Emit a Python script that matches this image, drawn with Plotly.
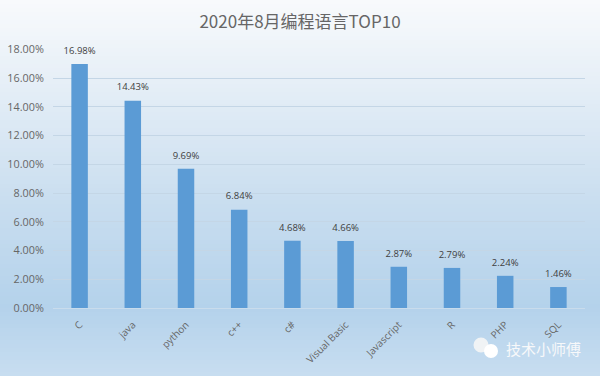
import plotly.graph_objects as go

languages = ["C", "java", "python", "c++", "c#", "Visual Basic", "Javascript", "R", "PHP", "SQL"]
shares = [16.98, 14.43, 9.69, 6.84, 4.68, 4.66, 2.87, 2.79, 2.24, 1.46]
y_ticks = [0, 2, 4, 6, 8, 10, 12, 14, 16, 18]
title_text = "2020年8月编程语言TOP10"
watermark = "技术小师傅"

FONT = "'Noto Sans CJK SC', 'Open Sans', sans-serif"
LABEL_FONT = "'Open Sans', 'Noto Sans CJK SC', sans-serif"
W, H = 600, 376
L, T, PW, PH = 53, 49, 532, 259

stops = [(0.0, (248, 250, 252)), (0.25, (227, 237, 246)), (0.55, (200, 221, 239)),
         (0.82, (180, 210, 235)), (1.0, (199, 221, 240))]


def grad(t):
    for (a, ca), (b, cb) in zip(stops, stops[1:]):
        if t <= b:
            f = (t - a) / (b - a)
            return "rgb(%d,%d,%d)" % tuple(round(x + (y - x) * f) for x, y in zip(ca, cb))
    return "rgb(199,221,240)"


def px(x):
    return (x - L) / PW


def py(y):
    return (T + PH - y) / PH


def circle(cx, cy, r, color):
    return dict(type="circle", xref="paper", yref="paper", layer="above",
                x0=px(cx - r), x1=px(cx + r), y0=py(cy + r), y1=py(cy - r),
                fillcolor=color, line=dict(width=0))


shapes = []
N = 94
for i in range(N):
    # each strip runs to the page bottom, so later strips overpaint without seams
    shapes.append(dict(type="rect", xref="paper", yref="paper", layer="below",
                       x0=px(0), x1=px(W), y0=py(H), y1=py(i * 4),
                       fillcolor=grad(i / (N - 1)), line=dict(width=0)))
shapes.append(circle(481, 345, 7.5, "#f0f3f5"))
shapes.append(circle(491, 351, 7, "#ffffff"))

fig = go.Figure()
fig.add_bar(x=languages, y=shares, width=0.31, marker=dict(color="#5b9bd5", line=dict(width=0)))
fig.add_scatter(x=languages, y=shares, mode="markers+text", cliponaxis=False,
                marker=dict(size=11, opacity=0),
                text=["%.2f%%" % v for v in shares], textposition="top center",
                textfont=dict(size=9.5, color="#404040", family=LABEL_FONT))

fig.add_annotation(text=watermark, xref="paper", yref="paper", x=px(543), y=py(348),
                   showarrow=False, font=dict(size=15, color="#f7f8fa", family=FONT),
                   xanchor="center", yanchor="middle")

fig.update_layout(
    width=W, height=H, showlegend=False, shapes=shapes,
    paper_bgcolor="#dce9f4", plot_bgcolor="rgba(0,0,0,0)",
    margin=dict(l=L, r=W - L - PW, t=T, b=H - T - PH, autoexpand=False),
    title=dict(text=title_text, x=0.5, xanchor="center", y=1 - 22 / H, yanchor="middle",
               font=dict(size=17, color="#666666", family=FONT)),
    font=dict(family=LABEL_FONT, size=10, color="#595959"),
    xaxis=dict(range=[-0.5, 9.5], tickangle=-45, showline=True, linecolor="#c9dcec", linewidth=1,
               ticks="outside", ticklen=6, tickcolor="rgba(0,0,0,0)",
               tickfont=dict(size=10, color="#666666")),
    yaxis=dict(range=[0, 18.03], tickvals=y_ticks, ticktext=["%.2f%%" % v for v in y_ticks],
               gridcolor="#c4d6e6", gridwidth=1, zeroline=False,
               ticks="outside", ticklen=6, tickcolor="rgba(0,0,0,0)",
               tickfont=dict(size=10.8, color="#666666")),
)
fig.write_html("out.html", config=dict(displayModeBar=False),
               post_script="document.body.style.margin='0';document.documentElement.style.overflow='hidden';")
